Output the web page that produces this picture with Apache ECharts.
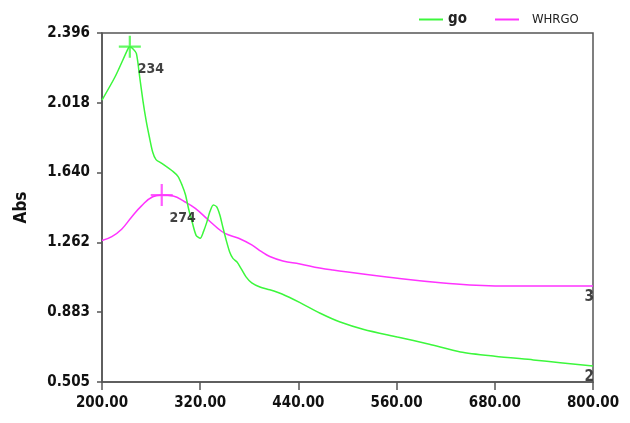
<!DOCTYPE html>
<html><head><meta charset="utf-8">
<script src="https://cdn.jsdelivr.net/npm/echarts@6/dist/echarts.min.js"></script>
<style>html,body{margin:0;padding:0;background:#fff}#c{width:630px;height:423px}</style>
</head><body><div id="c"></div>
<script>
const goWave = [200,216,232,234,238,242,246,250,254,258,262,266,273,287,293,298,302,306,310,315,320,324,328,332,336,340,344,348,352,356,360,365,370,376,383,393,405,420,442,466,491,520,561,600,638,680,727,760,800];
const goAbs  = [2.033,2.159,2.313,2.322,2.31,2.286,2.16,2.03,1.92,1.83,1.75,1.71,1.69,1.645,1.618,1.57,1.52,1.44,1.375,1.30,1.284,1.32,1.37,1.43,1.464,1.455,1.41,1.338,1.27,1.21,1.175,1.155,1.12,1.075,1.042,1.020,1.005,0.982,0.935,0.879,0.830,0.79,0.749,0.71,0.668,0.645,0.625,0.61,0.592];
const whWave = [200,212,224,236,248,262,273,287,301,314,330,346,356,367,383,395,405,421,442,466,482,548,617,695,800];
const whAbs  = [1.272,1.293,1.333,1.398,1.458,1.509,1.518,1.513,1.482,1.446,1.383,1.322,1.300,1.284,1.248,1.211,1.185,1.161,1.145,1.123,1.112,1.074,1.042,1.025,1.025];
const seriesNames = ['go','WHRGO'];
const peakGo = [234, 2.322];
const peakWh = [273, 1.518];
const peakLabels = ['234','274'];
const endLabels = ['2','3'];
const xTicks = ['200.00','320.00','440.00','560.00','680.00','800.00'];
const yTicks = ['0.505','0.883','1.262','1.640','2.018','2.396'];

const FONT = '"Liberation Sans Narrow","DejaVu Sans Condensed","Roboto Condensed",sans-serif';
const GREEN = '#3cf73c', PINK = '#ff33ff';
const cross = 'path://M9,0H11V20H9ZM0,9H20V11H0Z';
const pair = (xs, ys) => xs.map((x, i) => [x, ys[i]]);
const xMin = 200, xMax = 800, xInt = 120;
const yMin = 0.5052, yInt = 0.3782, yMax = yMin + 5 * yInt;

const chart = echarts.init(document.getElementById('c'), null, {renderer: 'canvas'});
chart.setOption({
  animation: false,
  backgroundColor: '#fff',
  grid: {left: 102, right: 37, top: 33, bottom: 41, show: true, borderColor: '#555', borderWidth: 1.5, backgroundColor: 'transparent'},
  legend: [
    {data: [{name: seriesNames[0], textStyle: {fontWeight: 'bold', fontSize: 15}}], left: 414, top: 7, icon: 'rect', itemWidth: 24, itemHeight: 2, itemGap: 12, textStyle: {fontFamily: FONT, color: '#222'}},
    {data: [{name: seriesNames[1], textStyle: {fontSize: 13}}], left: 490, top: 8, icon: 'rect', itemWidth: 24, itemHeight: 2, textStyle: {fontFamily: FONT, color: '#222', padding: [0,0,0,8]}}
  ],
  xAxis: {
    type: 'value', min: xMin, max: xMax, interval: xInt,
    axisLine: {show: true, lineStyle: {color: '#555', width: 1.5}},
    axisTick: {show: true, length: 8, lineStyle: {color: '#555', width: 1.5}},
    splitLine: {show: false},
    axisLabel: {margin: 14, color: '#111', fontFamily: FONT, fontWeight: 'bold', fontSize: 15,
      formatter: v => xTicks[Math.round((v - xMin) / xInt)] || ''}
  },
  yAxis: {
    type: 'value', min: yMin, max: yMax, interval: yInt,
    name: 'Abs', nameLocation: 'middle', nameGap: 72, nameRotate: 90,
    nameTextStyle: {fontFamily: FONT, fontWeight: 'bold', fontSize: 17, color: '#111'},
    axisLine: {show: true, lineStyle: {color: '#555', width: 1.5}},
    axisTick: {show: true, length: 5, lineStyle: {color: '#555', width: 1.5}},
    splitLine: {show: false},
    axisLabel: {margin: 12, color: '#111', fontFamily: FONT, fontWeight: 'bold', fontSize: 15,
      formatter: v => yTicks[Math.round((v - yMin) / yInt)] || ''}
  },
  series: [
    {name: seriesNames[0], type: 'line', data: pair(goWave, goAbs), smooth: 0.25, showSymbol: false, symbol: 'none', color: GREEN, lineStyle: {color: GREEN, width: 1.5}, z: 3},
    {name: seriesNames[1], type: 'line', data: pair(whWave, whAbs), smooth: 0.45, showSymbol: false, symbol: 'none', color: PINK, lineStyle: {color: PINK, width: 1.5}, z: 2},
    {name: 'pk', type: 'scatter', symbol: cross, symbolSize: 22, silent: true,
      data: [
        {value: peakGo, itemStyle: {color: GREEN}, label: {formatter: peakLabels[0]}},
        {value: peakWh, itemStyle: {color: PINK}, label: {formatter: peakLabels[1]}}
      ],
      label: {show: true, position: 'inside', offset: [21, 23], color: '#111', fontFamily: FONT, fontWeight: 'bold', fontSize: 14}, z: 4},
    {name: 'end', type: 'scatter', symbolSize: 0, silent: true, clip: false,
      data: [
        {value: [xMax, goAbs[goAbs.length - 1]], label: {formatter: endLabels[0]}},
        {value: [xMax, whAbs[whAbs.length - 1]], label: {formatter: endLabels[1]}}
      ],
      label: {show: true, position: 'inside', align: 'right', offset: [1, 11], color: '#111', fontFamily: FONT, fontWeight: 'bold', fontSize: 15}, z: 4}
  ]
});
</script></body></html>
